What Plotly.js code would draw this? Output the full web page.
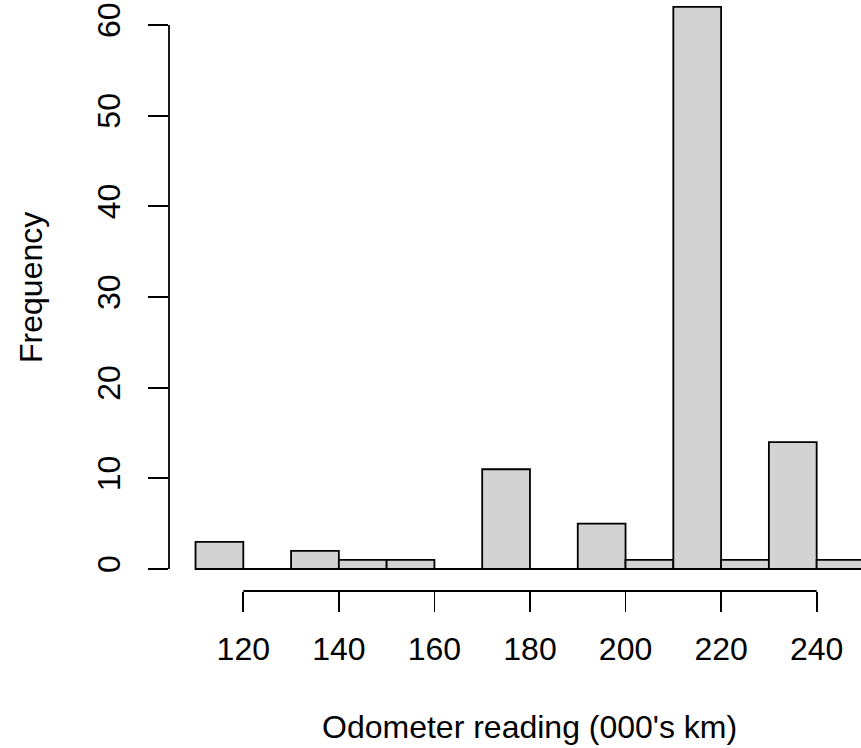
<!DOCTYPE html>
<html>
<head>
<meta charset="utf-8">
<script src="https://cdn.plot.ly/plotly-3.0.1.min.js"></script>
<style>html,body{margin:0;padding:0;background:#fff;}#chart{width:861px;height:748px;}</style>
</head>
<body>
<div id="chart"></div>
<script>
// Histogram bins (left edges, width 10) and counts
const binStarts = [110, 120, 130, 140, 150, 160, 170, 180, 190, 200, 210, 220, 230, 240];
const counts    = [3,   0,   2,   1,   1,   0,   11,  0,   5,   1,   62,  1,   14,  1];
const binWidth = 10;
const xTicks = [120, 140, 160, 180, 200, 220, 240];
const yTicks = [0, 10, 20, 30, 40, 50, 60];
const xTitle = "Odometer reading (000's km)";
const yTitle = "Frequency";

const centers = binStarts.map(s => s + binWidth / 2);
const lineW = 1.8;
const font = {family: "Liberation Sans, Arial, sans-serif", size: 32, color: "#000"};

const trace = {
  type: 'bar',
  x: centers,
  y: counts,
  width: binStarts.map(() => binWidth),
  marker: {color: '#D3D3D3', line: {color: '#000', width: lineW}},
  hoverinfo: 'skip'
};

const xMin = binStarts[0], xMax = binStarts[binStarts.length - 1] + binWidth;
const yMaxCount = Math.max(...counts);

const layout = {
  width: 861, height: 748,
  margin: {l: 169, r: 0, t: 0, b: 157, pad: 0},
  paper_bgcolor: '#fff', plot_bgcolor: '#fff',
  showlegend: false,
  bargap: 0,
  font: font,
  xaxis: {
    range: [104.45, 249.28],
    tickvals: xTicks, ticktext: xTicks.map(String),
    ticks: 'outside', ticklen: 20, tickwidth: lineW, tickcolor: '#000',
    showline: false, showgrid: false, zeroline: false,
    tickfont: font,
    ticklabelstandoff: 10,
    automargin: false
  },
  yaxis: {
    range: [-2.426, 62.756],
    tickvals: yTicks, ticktext: yTicks.map(String),
    ticks: 'outside', ticklen: 20, tickwidth: lineW, tickcolor: '#000',
    tickangle: -90,
    showline: false, showgrid: false, zeroline: false,
    tickfont: font,
    ticklabelstandoff: 15,
    automargin: false
  },
  annotations: [
    {text: xTitle, xref: 'x', yref: 'paper', x: (xMin + xMax) / 2, y: 0,
     yanchor: 'top', xanchor: 'center', yshift: -116, showarrow: false, font: font},
    {text: yTitle, xref: 'paper', yref: 'y', x: 0, y: yMaxCount / 2, textangle: -90,
     xanchor: 'right', yanchor: 'middle', xshift: -118, showarrow: false, font: font}
  ],
  shapes: [
    {type: 'line', xref: 'x', yref: 'y', x0: xMin, x1: xMax, y0: 0, y1: 0,
     line: {color: '#000', width: lineW}, layer: 'below'},
    {type: 'line', xref: 'x', yref: 'paper', x0: xTicks[0], x1: xTicks[xTicks.length - 1], y0: 0, y1: 0,
     line: {color: '#000', width: lineW}},
    {type: 'line', xref: 'paper', yref: 'y', x0: 0, x1: 0, y0: yTicks[0], y1: yTicks[yTicks.length - 1],
     line: {color: '#000', width: lineW}}
  ]
};

Plotly.newPlot('chart', [trace], layout, {staticPlot: true, displayModeBar: false});
</script>
</body>
</html>
